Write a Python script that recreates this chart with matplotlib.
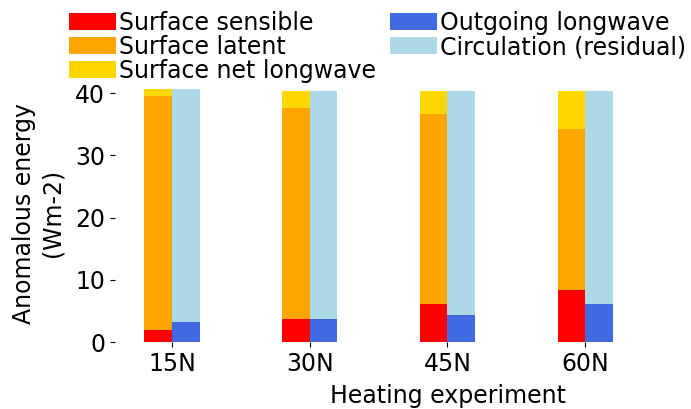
import numpy as np
import matplotlib
matplotlib.use("Agg")
import matplotlib.pyplot as plt

experiments = ["15N", "30N", "45N", "60N"]
surface_sensible = [1.9, 3.7, 6.1, 8.35]
surface_latent = [37.7, 33.95, 30.5, 25.85]
surface_net_lw = [1.0, 2.6, 3.8, 6.2]
outgoing_lw = [3.2, 3.7, 4.3, 6.1]
circulation = [37.4, 36.55, 36.1, 34.3]

plt.rcParams["font.size"] = 17

fig = plt.figure(figsize=(6.91, 4.09), dpi=100)
ax = fig.add_axes([0.1664, 0.1638, 0.9653, 0.6308])

x = np.arange(len(experiments))
w = 0.2
sens = np.array(surface_sensible)
lat = np.array(surface_latent)
lw = np.array(surface_net_lw)
olr = np.array(outgoing_lw)
circ = np.array(circulation)

ax.bar(x - w / 2, sens, w, color="red", label="Surface sensible")
ax.bar(x - w / 2, lat, w, bottom=sens, color="orange", label="Surface latent")
ax.bar(x - w / 2, lw, w, bottom=sens + lat, color="gold", label="Surface net longwave")
ax.bar(x + w / 2, olr, w, color="royalblue", label="Outgoing longwave")
ax.bar(x + w / 2, circ, w, bottom=olr, color="lightblue", label="Circulation (residual)")

ax.set_xlim(-0.414, 4.43)
ax.set_ylim(0, 41.45)
ax.set_xticks(x)
ax.set_xticklabels(experiments)
ax.set_yticks([0, 10, 20, 30, 40])
for s in ax.spines.values():
    s.set_visible(False)

ax.set_xlabel("Heating experiment", labelpad=6)
ax.set_ylabel("Anomalous energy\n(Wm-2)", ha="center", labelpad=8)

fig.legend(loc="upper left", bbox_to_anchor=(69 / 691, 1 - 11 / 409), ncol=2,
           frameon=False, borderpad=0, borderaxespad=0, handletextpad=0.1,
           labelspacing=0.0, columnspacing=0.62, handlelength=2.0,
           handleheight=0.75)

fig.savefig("out.png", dpi=100)
